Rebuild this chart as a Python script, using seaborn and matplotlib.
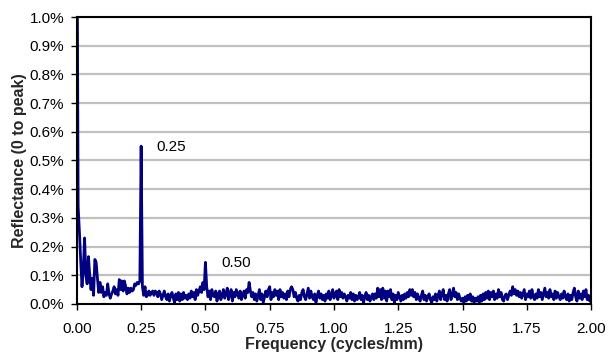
import numpy as np
import pandas as pd
import matplotlib
matplotlib.use("Agg")
import matplotlib.pyplot as plt
import seaborn as sns

refl_seg1 = [  # 0.000 - 0.300
    1.5, 0.34, 0.25, 0.15, 0.06, 0.12, 0.23, 0.10, 0.07, 0.165,
    0.10, 0.05, 0.09, 0.03, 0.155, 0.145, 0.09, 0.04, 0.075, 0.04,
    0.06, 0.025, 0.04, 0.03, 0.07, 0.035, 0.02, 0.035, 0.045, 0.06,
    0.035, 0.05, 0.03, 0.085, 0.05, 0.08, 0.045, 0.08, 0.06, 0.035,
    0.055, 0.04, 0.055, 0.045, 0.05, 0.07, 0.065, 0.075, 0.07, 0.08,
    0.55, 0.06, 0.03, 0.06, 0.025, 0.03, 0.045, 0.03, 0.04, 0.045,
    0.03,
]
refl_seg2 = [  # 0.305 - 0.765
    0.045, 0.04, 0.025, 0.045, 0.035, 0.015, 0.03, 0.045, 0.025, 0.015,
    0.035, 0.01, 0.03, 0.04, 0.02, 0.005, 0.035, 0.015, 0.04, 0.01,
    0.035, 0.015, 0.04, 0.02, 0.03, 0.015, 0.035, 0.02, 0.045, 0.025,
    0.04, 0.015, 0.05, 0.03, 0.045, 0.06, 0.04, 0.075, 0.05, 0.145,
    0.06, 0.025, 0.045, 0.015, 0.05, 0.03, 0.025, 0.045, 0.01, 0.035,
    0.045, 0.015, 0.03, 0.05, 0.02, 0.035, 0.055, 0.015, 0.035, 0.05,
    0.01, 0.04, 0.025, 0.05, 0.035, 0.02, 0.045, 0.015, 0.03, 0.045,
    0.02, 0.05, 0.04, 0.075, 0.045, 0.025, 0.04, 0.015, 0.035, 0.01,
    0.03, 0.05, 0.015, 0.035, 0.005, 0.025, 0.045, 0.025, 0.05, 0.06,
    0.015, 0.04, 0.025,
]
refl_seg3 = [  # 0.770 - 1.175
    0.05, 0.03, 0.045, 0.015, 0.05, 0.025, 0.04, 0.02, 0.035, 0.015,
    0.045, 0.025, 0.05, 0.06, 0.05, 0.025, 0.04, 0.02, 0.01, 0.03,
    0.015, 0.04, 0.05, 0.025, 0.015, 0.035, 0.055, 0.02, 0.045, 0.025,
    0.015, 0.035, 0.005, 0.03, 0.045, 0.02, 0.035, 0.015, 0.03, 0.01,
    0.035, 0.02, 0.045, 0.015, 0.03, 0.05, 0.02, 0.035, 0.045, 0.015,
    0.05, 0.025, 0.04, 0.02, 0.035, 0.025, 0.01, 0.03, 0.02, 0.04,
    0.015, 0.035, 0.01, 0.03, 0.015, 0.025, 0.04, 0.015, 0.03, 0.005,
    0.025, 0.04, 0.015, 0.03, 0.01, 0.025, 0.035, 0.015, 0.035, 0.02,
    0.055, 0.025,
]
refl_seg4 = [  # 1.180 - 1.520
    0.05, 0.015, 0.055, 0.02, 0.045, 0.01, 0.045, 0.025, 0.05, 0.015,
    0.035, 0.005, 0.03, 0.015, 0.04, 0.025, 0.01, 0.03, 0.015, 0.035,
    0.02, 0.04, 0.025, 0.05, 0.03, 0.05, 0.025, 0.04, 0.015, 0.035,
    0.02, 0.01, 0.03, 0.045, 0.015, 0.03, 0.01, 0.025, 0.035, 0.015,
    0.005, 0.025, 0.015, 0.035, 0.01, 0.03, 0.045, 0.015, 0.035, 0.05,
    0.015, 0.03, 0.01, 0.035, 0.05, 0.015, 0.03, 0.055, 0.025, 0.04,
    0.015, 0.035, 0.02, 0.01, 0.02, 0.005, 0.025, 0.01, 0.03,
]
refl_seg5 = [  # 1.525 - 2.000
    0.015, 0.035, 0.01, 0.025, 0.005, 0.02, 0.01, 0.025, 0.005, 0.03,
    0.01, 0.035, 0.015, 0.04, 0.02, 0.045, 0.015, 0.04, 0.025, 0.045,
    0.015, 0.035, 0.02, 0.05, 0.025, 0.04, 0.015, 0.01, 0.03, 0.035,
    0.015, 0.03, 0.045, 0.03, 0.06, 0.035, 0.05, 0.03, 0.045, 0.025,
    0.04, 0.02, 0.035, 0.05, 0.015, 0.035, 0.025, 0.045, 0.02, 0.05,
    0.025, 0.015, 0.035, 0.02, 0.05, 0.025, 0.04, 0.015, 0.035, 0.055,
    0.025, 0.04, 0.02, 0.05, 0.025, 0.035, 0.015, 0.045, 0.02, 0.04,
    0.025, 0.015, 0.035, 0.02, 0.045, 0.025, 0.015, 0.035, 0.01, 0.03,
    0.015, 0.04, 0.055, 0.025, 0.01, 0.045, 0.02, 0.035, 0.015, 0.045,
    0.025, 0.05, 0.015, 0.03, 0.01, 0.02,
]
freq_step = 0.005

x_ticks = [0.0, 0.25, 0.5, 0.75, 1.0, 1.25, 1.5, 1.75, 2.0]
y_ticks = [0.0, 0.1, 0.2, 0.3, 0.4, 0.5, 0.6, 0.7, 0.8, 0.9, 1.0]
annotations = [("0.25", 0.311, 0.547), ("0.50", 0.564, 0.144)]

refl = refl_seg1 + refl_seg2 + refl_seg3 + refl_seg4 + refl_seg5
freq = np.round(np.arange(len(refl)) * freq_step, 3)
df = pd.DataFrame({"freq": freq, "refl": refl})

sns.set_style("white")
plt.rcParams["font.family"] = ["Liberation Sans", "DejaVu Sans"]

fig = plt.figure(figsize=(6.10, 3.58), dpi=100)
ax = fig.add_axes([0.126, 0.151, 0.843, 0.8015])

for yv in y_ticks[1:]:
    ax.axhline(yv, color="#c0c0c0", lw=1.6, zorder=0)

sns.lineplot(data=df, x="freq", y="refl", ax=ax, color="#000080", lw=2.0,
             estimator=None, sort=False)

ax.set_xlim(0, 2.0)
ax.set_ylim(0, 1.0)
ax.set_xticks(x_ticks)
ax.set_xticklabels([f"{v:.2f}" for v in x_ticks])
ax.set_yticks(y_ticks)
ax.set_yticklabels([f"{v:.1f}%" for v in y_ticks])
ax.tick_params(axis="both", direction="out", length=4, width=1, color="black",
               labelsize=11, labelcolor="black", pad=5)
ax.tick_params(axis="x", pad=9)
ax.tick_params(left=True, bottom=True)
for s in ax.spines.values():
    s.set_color("black")
    s.set_linewidth(1.5)
    s.set_visible(True)

ax.set_xlabel("Frequency (cycles/mm)", fontsize=11.5, fontweight="bold", labelpad=1)
ax.set_ylabel("Reflectance (0 to peak)", fontsize=11.5, fontweight="bold", labelpad=2)

for txt, xv, yv in annotations:
    ax.text(xv, yv, txt, fontsize=11, va="center", ha="left", color="black")

fig.savefig("out.png", dpi=100)
